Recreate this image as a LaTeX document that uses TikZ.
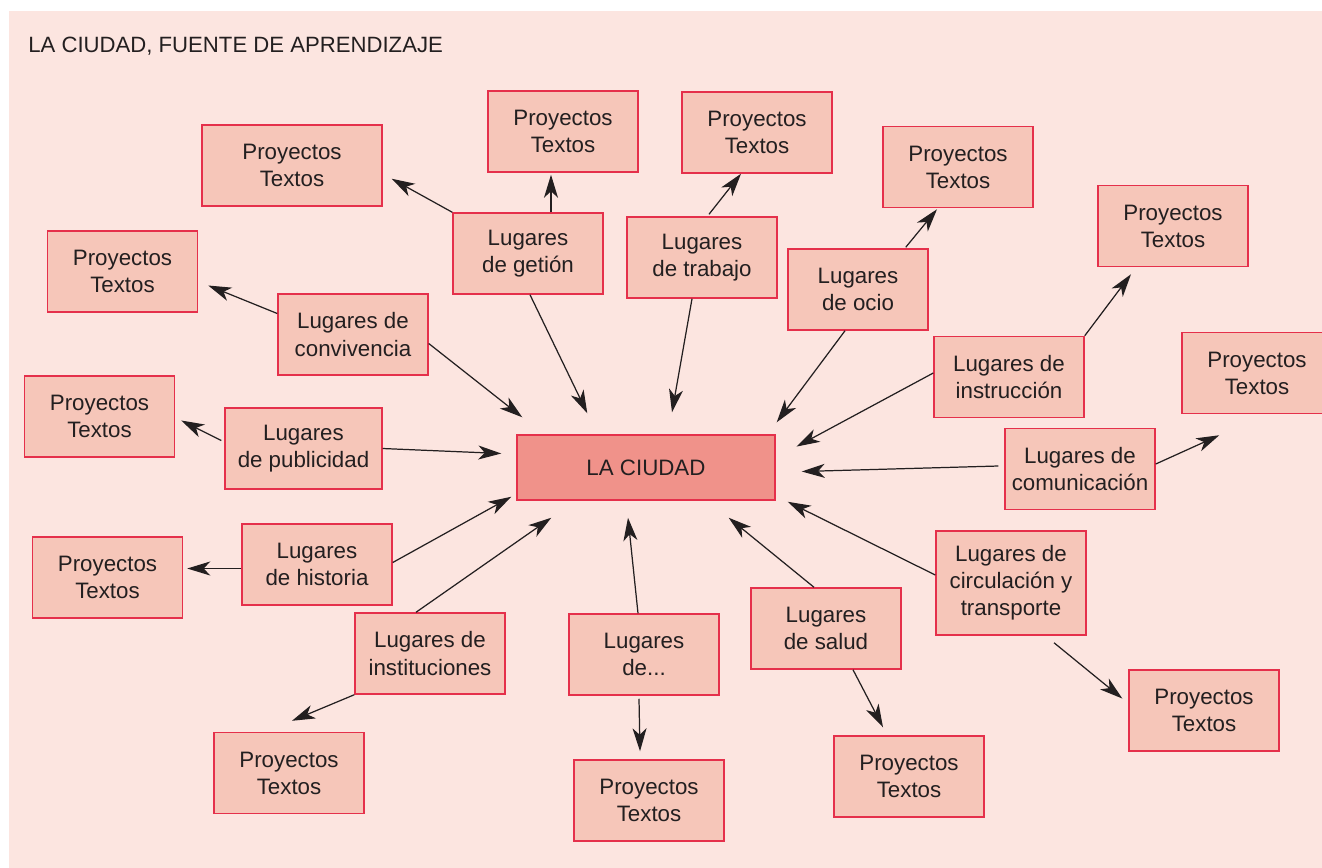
\documentclass[tikz,border=0pt]{standalone}
\usepackage{fontspec}
\setmainfont{Liberation Sans}
\usepackage{tikz}
\usetikzlibrary{arrows.meta,calc,positioning}

\definecolor{fondo}{HTML}{FCE5E0}
\definecolor{caja}{HTML}{F6C6B9}
\definecolor{borde}{HTML}{E5304B}
\definecolor{centro}{HTML}{F0928A}
\definecolor{tinta}{HTML}{231F20}

\begin{document}
\begin{tikzpicture}[x=0.02cm, y=-0.02cm,
    box/.style={draw=borde, line width=0.85pt, fill=caja, minimum width=3cm,
        minimum height=1.62cm, inner sep=0pt, align=center, text=tinta,
        font=\fontsize{12.7}{15.4}\selectfont},
    arr/.style={-{Stealth[length=4.6mm,width=2.8mm,inset=1.3mm]},
        line width=0.7pt, draw=tinta}]

    % page and background
    \useasboundingbox (0,0) rectangle (1322,867);
    \clip (0,0) rectangle (1322,867);
    \fill[white] (0,0) rectangle (1322,867);
    \fill[fondo] (9,11) rectangle (1330,870);

    \node[anchor=base west, text=tinta, inner sep=0pt,
        font=\fontsize{12.6}{15}\selectfont] (titulo) at (28,52)
        {LA CIUDAD, FUENTE DE APRENDIZAJE};

    % centre
    \node[box, fill=centro, minimum width=5.16cm, minimum height=1.3cm]
        (ciudad) at (646,467.5) {LA CIUDAD};

    % Lugares
    \node[box] (gestion) at (528,253.5) {Lugares\\de getión};
    \node[box] (trabajo) at (702,257.5) {Lugares\\de trabajo};
    \node[box, minimum width=2.8cm] (ocio) at (858,289.5) {Lugares\\de ocio};
    \node[box] (conv) at (353,334.5) {Lugares de\\convivencia};
    \node[box] (instr) at (1009,377) {Lugares de\\instrucción};
    \node[box, minimum width=3.14cm] (pub) at (303.5,448.5) {Lugares\\de publicidad};
    \node[box] (comun) at (1080,469) {Lugares de\\comunicación};
    \node[box] (hist) at (317,564.5) {Lugares\\de historia};
    \node[box] (inst) at (430,653.5) {Lugares de\\instituciones};
    \node[box] (puntos) at (644,654.5) {Lugares\\de...};
    \node[box] (salud) at (826,628.5) {Lugares\\de salud};
    \node[box, minimum height=2.08cm] (circ) at (1011,583)
        {Lugares de\\circulación y\\transporte};

    % Proyectos
    \node[box, minimum width=3.6cm] (pgest1) at (292,165.5) {Proyectos\\Textos};
    \node[box] (pgest2) at (563,131.5) {Proyectos\\Textos};
    \node[box] (ptrab) at (757,132.5) {Proyectos\\Textos};
    \node[box] (pocio) at (958,167) {Proyectos\\Textos};
    \node[box] (pinstr) at (1173,226) {Proyectos\\Textos};
    \node[box] (pcomun) at (1257,373) {Proyectos\\Textos};
    \node[box] (pconv) at (122.5,271.5) {Proyectos\\Textos};
    \node[box] (ppub) at (99.5,416.5) {Proyectos\\Textos};
    \node[box] (phist) at (107.5,577.5) {Proyectos\\Textos};
    \node[box] (pinst) at (289,773) {Proyectos\\Textos};
    \node[box] (ppuntos) at (649,800.5) {Proyectos\\Textos};
    \node[box] (psalud) at (909,776.5) {Proyectos\\Textos};
    \node[box] (pcirc) at (1204,710.5) {Proyectos\\Textos};

    % into the city
    \draw[arr] ($(gestion.south)+(2,0)$) -- ($(ciudad.north west)+(71,-21)$);
    \draw[arr] ($(trabajo.south)+(-10,0)$) -- ($(ciudad.north)+(26,-22)$);
    \draw[arr] ($(ocio.south)+(-13,0)$) -- ($(ciudad.north east)+(1,-12)$);
    \draw[arr] ($(conv.east)+(0,9)$) -- ($(ciudad.north west)+(6,-17)$);
    \draw[arr] ($(instr.west)+(0,-4)$) -- ($(ciudad.east)+(21,-21)$);
    \draw[arr] (pub.east) -- ($(ciudad.west)+(-15,-14)$);
    \draw[arr] ($(comun.west)+(-6,-3)$) -- ($(ciudad.east)+(26,4)$);
    \draw[arr] ($(hist.east)+(0,-2)$) -- ($(ciudad.south west)+(-5,-4)$);
    \draw[arr] ($(inst.north)+(-14,0)$) -- ($(ciudad.south west)+(35,17)$);
    \draw[arr] ($(puntos.north)+(-6,0)$) -- ($(ciudad.south)+(-18,17)$);
    \draw[arr] ($(salud.north)+(-12,0)$) -- ($(ciudad.south east)+(-47,17)$);
    \draw[arr] ($(circ.west)+(0,-8)$) -- ($(ciudad.south east)+(12,1)$);

    % out to the projects
    \draw[arr] (gestion.north west) -- ($(pgest1.south east)+(9,-28)$);
    \draw[arr] ($(gestion.north)+(23,0)$) -- ($(pgest2.south)+(-12,2)$);
    \draw[arr] ($(trabajo.north)+(7,-2)$) -- ($(ptrab.south)+(-16,0)$);
    \draw[arr] ($(ocio.north east)+(-23,-1)$) -- ($(pocio.south)+(-21,1)$);
    \draw[arr] (instr.north east) -- ($(pinstr.south)+(-42,7)$);
    \draw[arr] ($(comun.east)+(0,-5)$) -- ($(pcomun.south west)+(38,21)$);
    \draw[arr] ($(conv.west)+(0,-21)$) -- ($(pconv.east)+(10,14)$);
    \draw[arr] ($(pub.west)+(-3,-8)$) -- ($(ppub.east)+(6,4)$);
    \draw[arr] ($(hist.west)+(0,4)$) -- ($(phist.east)+(4,-9)$);
    \draw[arr] (inst.south west) -- ($(pinst.north)+(3,-11)$);
    \draw[arr] ($(puntos.south)+(-5,3)$) -- ($(ppuntos.north)+(-9,-8)$);
    \draw[arr] ($(salud.south)+(27,0)$) -- ($(psalud.north)+(-26,-8)$);
    \draw[arr] ($(circ.south)+(43,7)$) -- ($(pcirc.west)+(-6,-12)$);
\end{tikzpicture}
\end{document}
